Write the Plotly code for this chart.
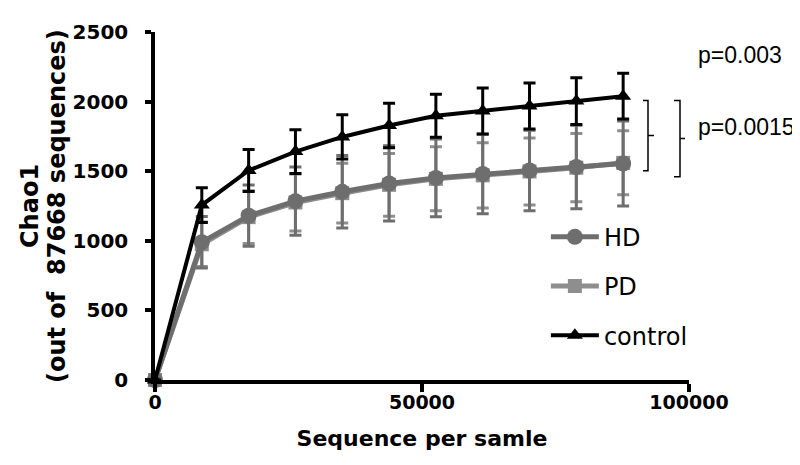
import plotly.graph_objects as go

# rarefaction depth (sequences per sample)
depth = [0, 8767, 17534, 26300, 35067, 43834, 52601, 61368, 70134, 78901, 87668]

# Chao1 means and SD per group
hd = [0, 990, 1180, 1285, 1352, 1412, 1452, 1480, 1505, 1530, 1555]
hd_sd = [0, 185, 220, 245, 260, 270, 280, 285, 290, 300, 305]
pd_ = [0, 975, 1170, 1275, 1342, 1402, 1445, 1470, 1498, 1525, 1560]
pd_sd = [0, 160, 190, 205, 215, 225, 230, 235, 240, 245, 230]
control = [0, 1257, 1505, 1641, 1746, 1828, 1898, 1933, 1968, 2004, 2039]
control_sd = [0, 125, 150, 157, 159, 160, 155, 165, 165, 168, 164]

p_labels = ["p=0.003", "p=0.0015"]

bold = "DejaVu Sans"

fig = go.Figure()


def add_group(name, y, sd, color, symbol, size, rank, lw):
    fig.add_trace(go.Scatter(
        x=depth, y=y, name=name, mode="lines+markers",
        line=dict(color=color, width=lw),
        marker=dict(symbol=symbol, size=size, color=color),
        error_y=dict(type="data", array=sd, visible=True, color=color,
                     thickness=3, width=6),
        legendgroup=name, legendrank=rank, cliponaxis=False,
    ))


add_group("PD", pd_, pd_sd, "#8e8e8e", "square", 14, 2, 5)
add_group("HD", hd, hd_sd, "#6e6e6e", "circle", 16, 1, 5)
add_group("control", control, control_sd, "#000000", "triangle-up", 14, 3, 4)

# significance brackets
fig.add_shape(type="path", xref="x", yref="y",
              path="M 91386,2008 H 92322 V 1503 H 91386 M 92322,1756 H 93446",
              line=dict(color="black", width=1.5))
fig.add_shape(type="path", xref="x", yref="y",
              path="M 97191,2008 H 98315 V 1461 H 97191 M 98315,1735 H 99251",
              line=dict(color="black", width=1.5))
for txt, py in zip(p_labels, [40, 113]):
    fig.add_annotation(text=txt, x=(688 - 147) / 534, y=(372 - py) / 356,
                       xref="paper", yref="paper",
                       xanchor="left", yanchor="middle", showarrow=False,
                       font=dict(family="Liberation Sans", size=23, color="black"))

# y title as two rotated lines
for txt, px in [("Chao1", 22), ("(out of  87668 sequences)", 49)]:
    fig.add_annotation(text=txt, xref="paper", yref="paper",
                       x=(px - 147) / 534, y=0.5, xanchor="center", yanchor="middle",
                       textangle=-90, showarrow=False,
                       font=dict(family=bold, size=24, color="black", weight="bold"))

fig.update_layout(
    width=800, height=465,
    margin=dict(l=147, r=119, t=16, b=93),
    paper_bgcolor="white", plot_bgcolor="white",
    showlegend=True,
    legend=dict(x=0.732, y=0.475, xanchor="left", yanchor="top",
                font=dict(family="DejaVu Sans", size=24, color="black"),
                bgcolor="rgba(0,0,0,0)", tracegroupgap=15, itemwidth=48),
    xaxis=dict(range=[0, 100000], tickvals=[0, 50000, 100000], tickformat="d",
               showline=True, linecolor="black", linewidth=3.5,
               ticks="outside", ticklen=8, tickwidth=3.5, tickcolor="black",
               showgrid=False, zeroline=False, ticklabelstandoff=-6,
               tickfont=dict(family=bold, size=19, color="black", weight="bold"),
               title=dict(text="Sequence per samle", standoff=20,
                          font=dict(family=bold, size=22, color="black", weight="bold"))),
    yaxis=dict(range=[0, 2500], dtick=500,
               showline=True, linecolor="black", linewidth=3.5,
               ticks="outside", ticklen=6, tickwidth=3.5, tickcolor="black",
               showgrid=False, zeroline=False, ticklabelstandoff=13,
               tickfont=dict(family=bold, size=20, color="black", weight="bold")),
)

fig.write_html("out.html")
